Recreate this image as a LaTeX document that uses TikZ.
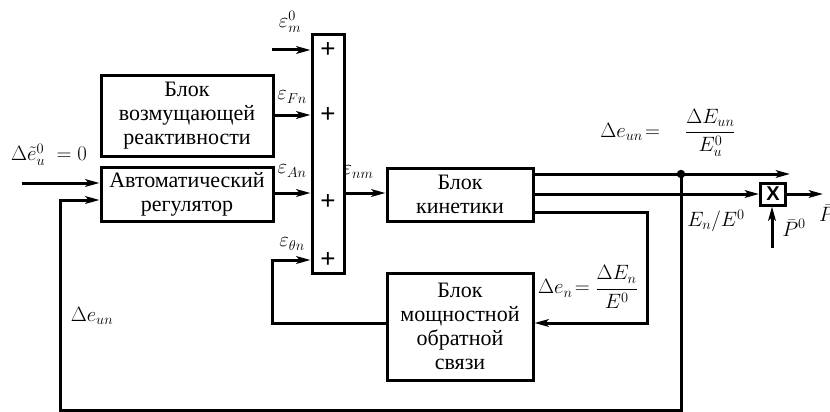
\documentclass[tikz,border=0pt]{standalone}
\usepackage{fontspec}
\setmainfont{Liberation Serif}
\newfontfamily\sansb{Liberation Sans}
\usetikzlibrary{arrows.meta}
\begin{document}
\begin{tikzpicture}[x=1pt,y=-1pt,
  blk/.style={draw, line width=3pt, inner sep=0pt, align=center, font=\fontsize{22}{24}\selectfont},
  ln/.style={line width=3pt},
  arr/.style={line width=3pt, -{Stealth[length=14pt,width=7.5pt,inset=3pt]}},
  lbl/.style={font=\fontsize{19.5}{22}\selectfont, inner sep=0pt},
  plus/.style={font=\sansb\fontsize{26}{26}\selectfont, inner sep=0pt}]
\useasboundingbox (0,0) rectangle (830,412);
% blocks
\node[blk, minimum width=32pt, minimum height=238pt] (sum) at (328,154) {};
\node[plus] (p1) at (328,50) {+};
\node[plus] (p2) at (328,115) {+};
\node[plus] (p3) at (328,202) {+};
\node[plus] (p4) at (328,260) {+};
\node[blk, minimum width=172pt, minimum height=80pt] (vozm) at (187,116) {Блок\\возмущающей\\реактивности};
\node[blk, minimum width=172pt, minimum height=54pt] (avt) at (187,194) {Автоматический\\регулятор};
\node[blk, minimum width=146pt, minimum height=53pt] (kin) at (460,194.5) {Блок\\кинетики};
\node[blk, minimum width=146pt, minimum height=107pt] (mosh) at (460,326.5) {Блок\\мощностной\\обратной\\связи};
\node[draw, line width=3pt, minimum width=25pt, minimum height=22pt, inner sep=0pt,
      font=\sansb\bfseries\fontsize{20}{20}\selectfont] (xbox) at (773,194) {X};
% coordinates
\coordinate (em) at (272,50);
\coordinate (in) at (22,183);
\coordinate (dot) at (681,174);
\coordinate (fb) at (60,410);
\coordinate (fbin) at (60,200);
\coordinate (o1) at (790,174);
\coordinate (k3) at (533,212);
\coordinate (r3) at (647,323);
\coordinate (th) at (272,323);
\coordinate (p0) at (772,248);
\coordinate (out) at (823,194);
% connectors
\draw[arr] (em) -- (em -| sum.west);
\draw[arr] (vozm.east |- 0,115) -- (sum.west |- 0,115);
\draw[arr] (avt.east |- 0,193) -- (sum.west |- 0,193);
\draw[arr] (in) -- (in -| avt.west);
\draw[arr] (dot) |- (fb) |- (fbin -| avt.west);
\draw[arr] (sum.east |- 0,193) -- (kin.west |- 0,193);
\draw[arr] (kin.east |- dot) -- (o1);
\draw[arr] (kin.east |- xbox) -- (xbox.west);
\draw[arr] (k3) -| (r3) -- (r3 -| mosh.east);
\draw[arr] (th -| mosh.west) -- (th) |- (p4 -| sum.west);
\draw[arr] (p0) -- (p0 |- xbox.south);
\draw[arr] (xbox.east) -- (out);
\fill (dot) circle (4.2pt);
% labels
\node[lbl] (lem) at (290,22) {$\varepsilon_m^0$};
\node[lbl] (lfn) at (292,97) {$\varepsilon_{Fn}$};
\node[lbl] (lan) at (292,171) {$\varepsilon_{An}$};
\node[lbl] (lth) at (292,244) {$\varepsilon_{\theta n}$};
\node[lbl] (lnm) at (358,172) {$\varepsilon_{nm}$};
\node[lbl] (lin) at (49,155) {$\Delta\tilde{e}_u^0\;= 0$};
\node[lbl] (lfb) at (92,316) {$\Delta e_{un}$};
\node[lbl] (lun) at (668,133) {$\Delta e_{un}\!= \quad\displaystyle\frac{\Delta E_{un}}{E_u^0}$};
\node[lbl] (len) at (588,287) {$\Delta e_n\!= \displaystyle\frac{\Delta E_n}{E^0}$};
\node[lbl] (lee) at (716,221) {$E_n/E^0$};
\node[lbl] (lp0) at (794,228) {$\bar{P}^0$};
\node[lbl, anchor=west] (lp) at (819,213) {$\bar{P}$};
\end{tikzpicture}
\end{document}
